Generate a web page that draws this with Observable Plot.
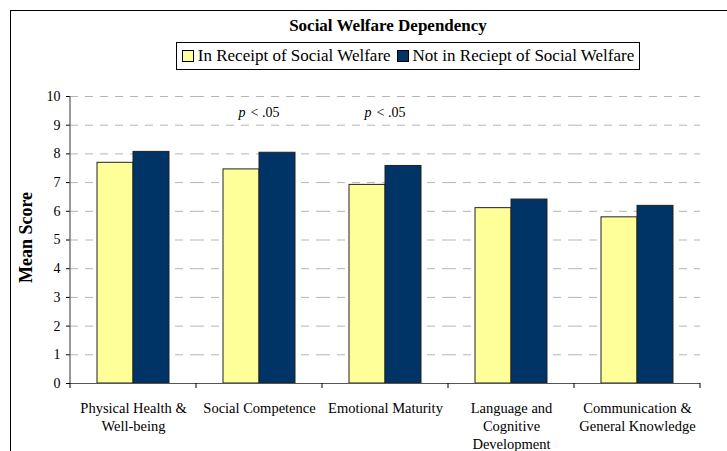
<!DOCTYPE html>
<html>
<head>
<meta charset="utf-8">
<script src="https://cdn.jsdelivr.net/npm/d3@7"></script>
<script src="https://cdn.jsdelivr.net/npm/@observablehq/plot@0.6"></script>
<style>
  html, body { margin: 0; padding: 0; background: #fff; }
  body { width: 727px; height: 451px; position: relative; overflow: hidden; font-family: "Liberation Serif", "Times New Roman", serif; }
  #frame { position: absolute; left: 10px; top: 10px; width: 730px; height: 460px; border: 1.5px solid #000; box-sizing: border-box; }
  #header { position: relative; height: 75px; }
  #title { position: absolute; left: 0; width: 776px; top: 16px; text-align: center; font-weight: bold; font-size: 17px; }
  #legend { position: absolute; left: 176px; top: 42px; width: 464px; height: 28px; border: 1px solid #000; box-sizing: border-box; display: flex; align-items: center; justify-content: center; font-size: 17px; white-space: nowrap; }
  .sw { display: inline-block; width: 10px; height: 10px; border: 1px solid #000; margin: 0 4px 0 0; }
  .item { display: inline-flex; align-items: center; margin: 0 3px; }
  #chart { position: relative; }
</style>
</head>
<body>
<div id="frame"></div>
<div id="header">
  <div id="title">Social Welfare Dependency</div>
  <div id="legend"></div>
</div>
<div id="chart"></div>
<script>
const categories = ["Physical Health &\nWell-being", "Social Competence", "Emotional Maturity", "Language and\nCognitive\nDevelopment", "Communication &\nGeneral Knowledge"];
const series = ["In Receipt of Social Welfare", "Not in Reciept of Social Welfare"];
const inReceipt = [7.69, 7.46, 6.92, 6.11, 5.79];
const notInReceipt = [8.07, 8.04, 7.58, 6.41, 6.19];
const colors = ["#FFFF99", "#003366"];
const yTicks = [0, 1, 2, 3, 4, 5, 6, 7, 8, 9, 10];
const significant = ["Social Competence", "Emotional Maturity"];
const sigY = 9.45;

const data = [];
categories.forEach((c, i) => {
  data.push({category: c, series: series[0], value: inReceipt[i]});
  data.push({category: c, series: series[1], value: notInReceipt[i]});
});
const notes = significant.map(c => ({category: c, y: sigY}));

// legend
const legend = document.getElementById("legend");
series.forEach((s, i) => {
  const it = document.createElement("span");
  it.className = "item";
  const sw = document.createElement("span");
  sw.className = "sw";
  sw.style.background = colors[i];
  it.appendChild(sw);
  it.appendChild(document.createTextNode(s));
  legend.appendChild(it);
});

const plot = Plot.plot({
  width: 727,
  height: 376,
  marginLeft: 69,
  marginRight: 27,
  marginTop: 21,
  marginBottom: 68,
  style: {fontFamily: "'Liberation Serif', 'Times New Roman', serif", fontSize: "14px", color: "#000", background: "transparent"},
  fx: {domain: categories, padding: 0, label: null},
  x: {domain: series, paddingInner: 0, paddingOuter: 0.726, axis: null},
  y: {domain: [0, 10], label: null},
  color: {domain: series, range: colors},
  marks: [
    Plot.gridY(yTicks.slice(1), {stroke: "#b5b5b5", strokeOpacity: 1, strokeDasharray: "8,7", strokeWidth: 1}),
    Plot.axisY({ticks: yTicks, tickSize: 4, tickPadding: 6, fontSize: 14, label: null}),
    Plot.axisFx({tickSize: 0, tickPadding: 17, lineHeight: 1.24, fontSize: 14.5, label: null, anchor: "bottom"}),
    Plot.barY(data, {fx: "category", x: "series", y: "value", fill: "series", stroke: "#222", strokeWidth: 1}),
    Plot.ruleY([0], {stroke: "#555", strokeWidth: 1.2}),
    Plot.text(notes, {fx: "category", y: "y", text: () => "p", fontStyle: "italic", textAnchor: "start", dx: -21, fontSize: 14}),
    Plot.text(notes, {fx: "category", y: "y", text: () => "< .05", textAnchor: "start", dx: -9, fontSize: 14})
  ]
});

// y axis line and boundary ticks on category axis, from the plot's own scales
const svg = d3.select(plot.tagName === "svg" ? plot : plot.querySelector("svg"));
const fx = plot.scale("fx");
const yS = plot.scale("y");
const y0 = yS.apply(0), y10 = yS.apply(10);
const bw = fx.bandwidth;
const bounds = categories.map(c => fx.apply(c)).concat([fx.apply(categories[categories.length - 1]) + bw]);
svg.append("line").attr("x1", bounds[0]).attr("x2", bounds[0]).attr("y1", y10).attr("y2", y0).attr("stroke", "#555").attr("stroke-width", 1.2);
bounds.forEach(b => {
  svg.append("line").attr("x1", b).attr("x2", b).attr("y1", y0).attr("y2", y0 + 5).attr("stroke", "#000").attr("stroke-width", 1);
});
// Mean Score label
svg.append("text").attr("transform", `translate(32,${(y0 + y10) / 2 - 2}) rotate(-90)`)
  .attr("text-anchor", "middle").attr("font-weight", "bold").attr("font-size", 18).attr("fill", "#000").text("Mean Score");

document.getElementById("chart").appendChild(plot);
</script>
</body>
</html>
